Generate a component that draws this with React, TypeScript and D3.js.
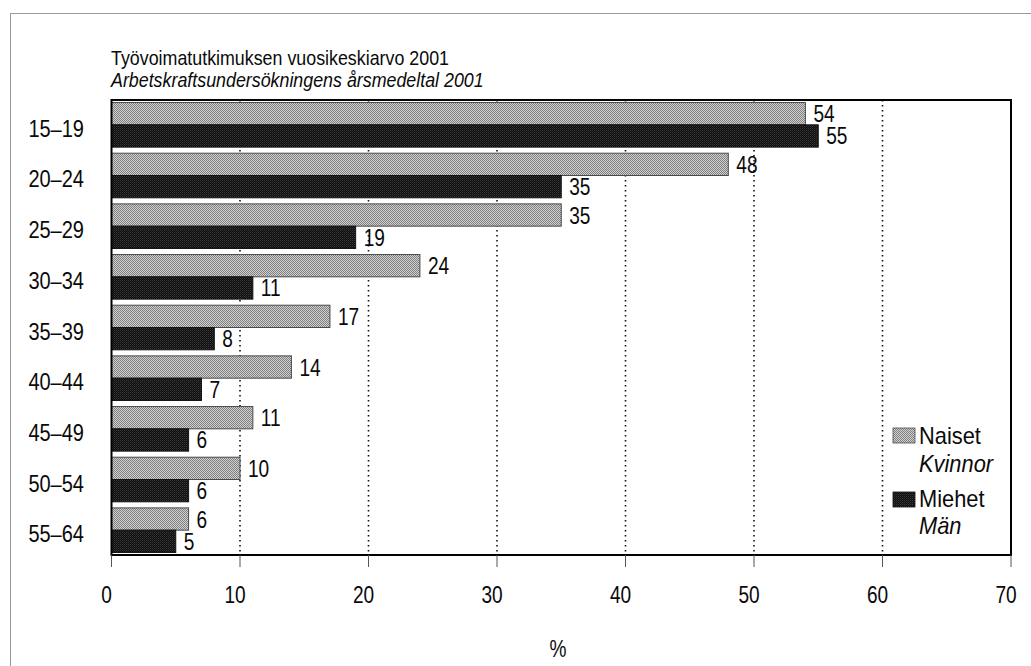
import React from 'react';
import * as d3 from 'd3';

const categories = ['15–19', '20–24', '25–29', '30–34', '35–39', '40–44', '45–49', '50–54', '55–64'];
const naiset = [54, 48, 35, 24, 17, 14, 11, 10, 6];
const miehet = [55, 35, 19, 11, 8, 7, 6, 6, 5];
const xTicks = [0, 10, 20, 30, 40, 50, 60, 70];
const gridTicks = [10, 20, 30, 40, 50, 60];
const titleLines = ['Työvoimatutkimuksen vuosikeskiarvo 2001', 'Arbetskraftsundersökningens årsmedeltal 2001'];
const legendItems = [
  { key: 'n', label: 'Naiset', sub: 'Kvinnor' },
  { key: 'm', label: 'Miehet', sub: 'Män' },
];

const W = 1031;
const H = 666;
const FONT = "'Liberation Sans', Arial, sans-serif";

function NText({ x, y, size = 23, sx = 0.83, anchor = 'start', italic = false, children }: any) {
  return (
    <text
      transform={`translate(${x},${y}) scale(${sx},1)`}
      fontSize={size}
      textAnchor={anchor}
      fontStyle={italic ? 'italic' : 'normal'}
      fill="#0a0a0a"
    >
      {children}
    </text>
  );
}

export default function App() {
  const left = 111.5, right = 1011, top = 100, bottom = 555;
  const x = d3.scaleLinear().domain([0, 70]).range([left, right]);
  const y = d3.scaleBand<string>().domain(categories).range([top, bottom]).paddingInner(0.12).paddingOuter(0.05);
  const sub = d3.scaleBand<string>().domain(['n', 'm']).range([0, y.bandwidth()]);
  const fills: Record<string, string> = { n: 'url(#patLight)', m: 'url(#patDark)' };
  const strokes: Record<string, string> = { n: '#4a4a4a', m: '#111' };
  const seriesVals: Record<string, number[]> = { n: naiset, m: miehet };

  return (
    <svg width={W} height={H} style={{ position: 'absolute', left: 0, top: 0, background: '#fff' }} fontFamily={FONT}>
      <defs>
        <pattern id="patLight" width="2" height="2" patternUnits="userSpaceOnUse">
          <rect width="2" height="2" fill="#d0d0d0" />
          <rect width="1" height="1" fill="#808080" />
          <rect x="1" y="1" width="1" height="1" fill="#808080" />
        </pattern>
        <pattern id="patDark" width="2" height="2" patternUnits="userSpaceOnUse">
          <rect width="2" height="2" fill="#0e0e0e" />
          <rect width="1" height="1" fill="#3a3a3a" />
          <rect x="1" y="1" width="1" height="1" fill="#222" />
        </pattern>
      </defs>
      <rect x={10.5} y={13.5} width={1100} height={800} fill="none" stroke="#999" strokeWidth={1} />

      {titleLines.map((t, i) => (
        <NText key={t} x={111} y={i === 0 ? 65 : 87} size={21} sx={0.85} italic={i === 1}>
          {t}
        </NText>
      ))}

      {gridTicks.map((v) => (
        <line key={v} x1={x(v)} x2={x(v)} y1={top} y2={bottom} stroke="#111" strokeWidth={1.6} strokeDasharray="1.6 3.4" />
      ))}

      {categories.map((c, i) => (
        <g key={c}>
          {(['n', 'm'] as const).map((k) => {
            const v = seriesVals[k][i];
            const by = (y(c) as number) + (sub(k) as number);
            const bh = sub.bandwidth();
            return (
              <g key={k}>
                <rect x={x(0)} y={by} width={x(v) - x(0)} height={bh} fill={fills[k]} stroke={strokes[k]} strokeWidth={1} />
                <NText x={x(v) + 8} y={by + bh / 2 + 8.5}>
                  {v}
                </NText>
              </g>
            );
          })}
          <NText x={84} y={(y(c) as number) + y.bandwidth() / 2 + 12} anchor="end" sx={0.87}>
            {c}
          </NText>
        </g>
      ))}

      <rect x={left} y={top} width={right - left} height={bottom - top} fill="none" stroke="#000" strokeWidth={2} />

      {xTicks.map((v) => (
        <g key={v}>
          <line x1={x(v)} x2={x(v)} y1={bottom} y2={bottom + 12} stroke="#555" strokeWidth={1} />
          <NText x={x(v) - 5} y={603} anchor="middle">
            {v}
          </NText>
        </g>
      ))}
      <NText x={558} y={657} anchor="middle">%</NText>

      {legendItems.map((it, i) => (
        <g key={it.key}>
          <rect x={893} y={428 + i * 64} width={22} height={15} fill={fills[it.key]} stroke={strokes[it.key]} strokeWidth={0.8} />
          <NText x={919} y={444 + i * 63} sx={0.95}>{it.label}</NText>
          <NText x={919} y={472 + i * 62} sx={0.95} italic>{it.sub}</NText>
        </g>
      ))}
    </svg>
  );
}
